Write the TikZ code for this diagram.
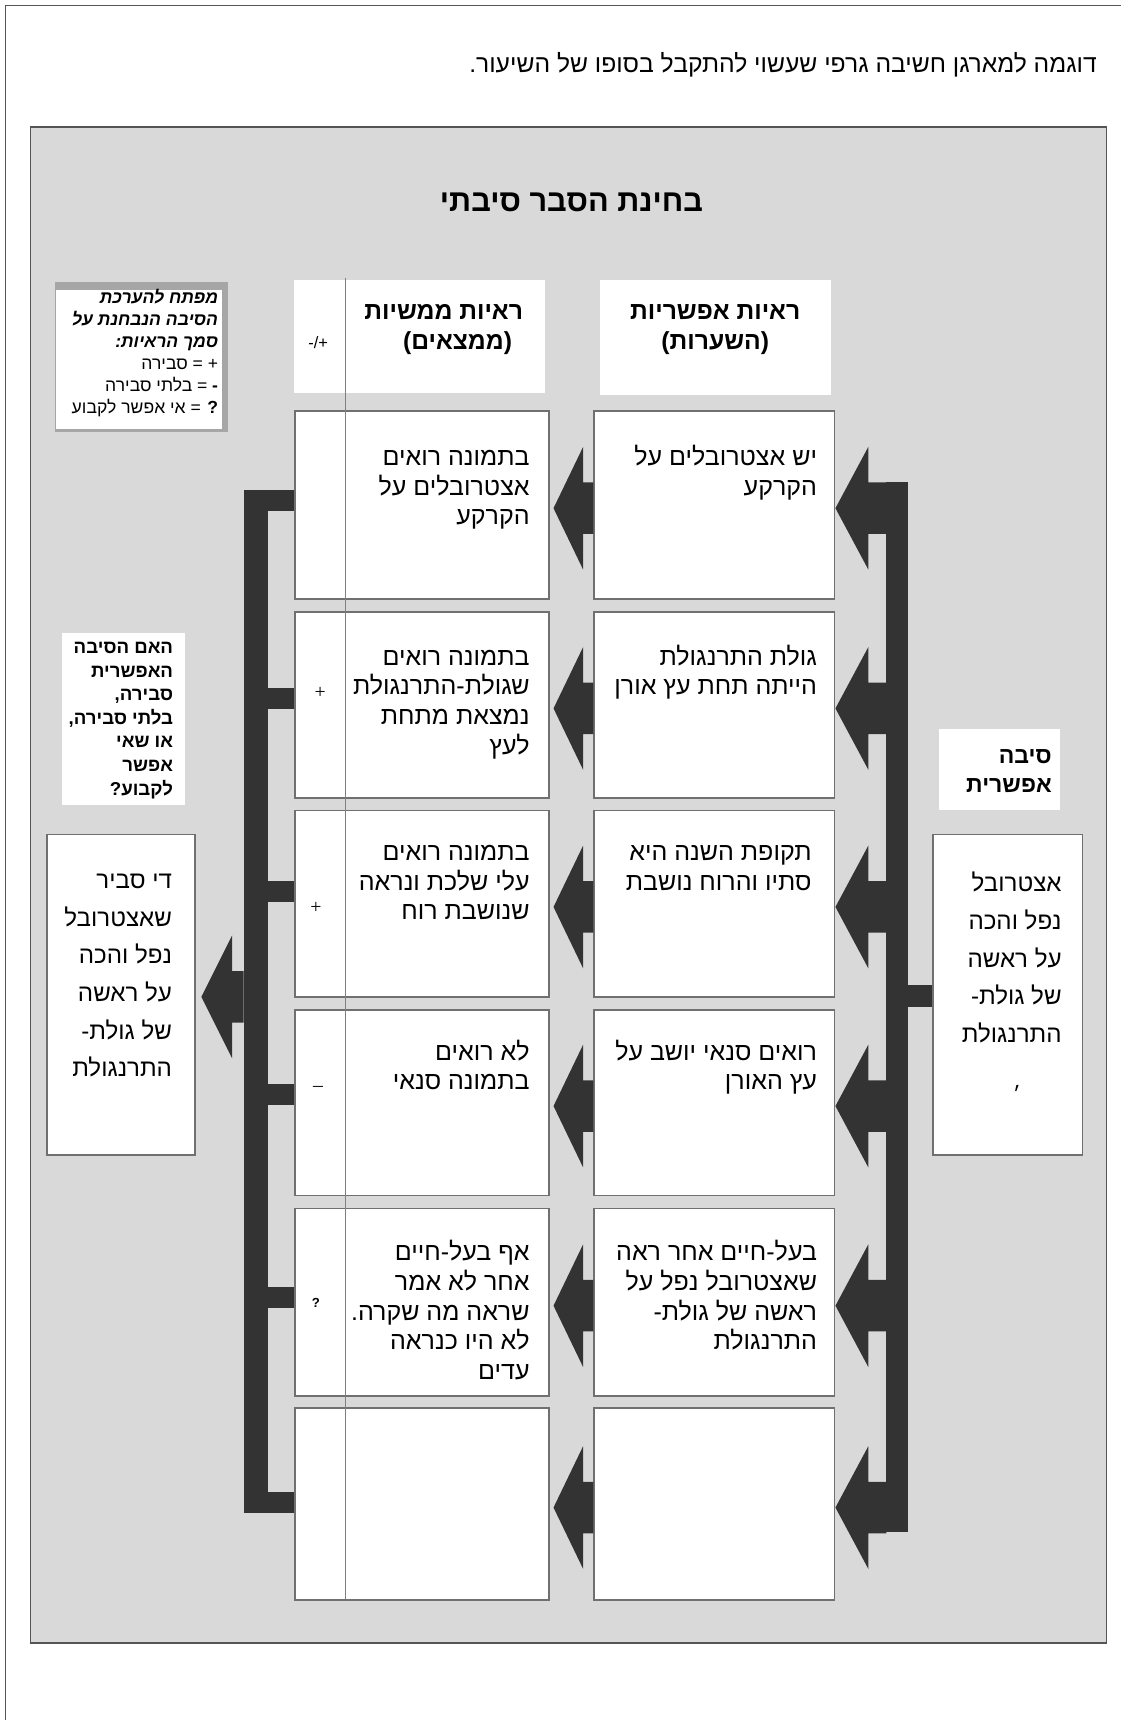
\documentclass[tikz,border=0pt]{standalone}
\usepackage{fontspec}
\setmainfont[Script=Hebrew]{Liberation Sans}
\newfontfamily\serifmark{Liberation Serif}
\newfontfamily\latinsans{Liberation Sans}
\usetikzlibrary{calc}
\TeXXeTstate=1
\newcommand{\heb}[1]{\strut\beginR#1\endR}
\definecolor{panelgray}{HTML}{D9D9D9}
\definecolor{boxline}{HTML}{707070}
\definecolor{arrowdark}{HTML}{333333}
\definecolor{framegray}{HTML}{555555}
\definecolor{keygray}{HTML}{A6A6A6}
\definecolor{divline}{HTML}{808080}
\tikzset{
  cell/.style={draw=boxline, line width=1.6pt, fill=white, anchor=north west, inner sep=0pt},
  plainbox/.style={fill=white, anchor=north west, inner sep=0pt},
  bodytext/.style={anchor=north east, align=right, inner sep=0pt, font=\fontsize{22.8}{27}\selectfont},
  tallbody/.style={anchor=north east, align=right, inner sep=0pt, font=\fontsize{22}{34.3}\selectfont},
  headtext/.style={anchor=north east, align=right, inner sep=0pt, font=\fontsize{22.5}{27}\selectfont\bfseries},
  markserif/.style={inner sep=0pt, font=\serifmark\fontsize{18}{20}\selectfont},
  darkfill/.style={fill=arrowdark}
}
\newcommand{\blockarrow}[3]{\fill[arrowdark] (#1) -- ++(#3,-56) -- ++(0,32.5) -- ($(#1 -| #2)+(0,-23.5)$) -- ($(#1 -| #2)+(0,23.5)$) -- ($(#1)+(#3,23.5)$) -- ++(0,32.5) -- cycle;}
\begin{document}
\begin{tikzpicture}[x=1pt,y=-1pt]
\lineskiplimit=-50pt
\useasboundingbox (0,0) rectangle (1022,1568);
\fill[white] (0,0) rectangle (1022,1568);
\draw[framegray, line width=1pt] (1022,5) -- (5,5) -- (5,1568);
\node[anchor=base east, inner sep=0pt, font=\fontsize{22.5}{26}\selectfont] (intro) at (1000,66) {\heb{דוגמה למארגן חשיבה גרפי שעשוי להתקבל בסופו של השיעור.}};
% panel
\node[draw=framegray, line width=1.5pt, fill=panelgray, anchor=north west, minimum width=981, minimum height=1382, inner sep=0pt] (panel) at (27,115) {};
\node[anchor=base, inner sep=0pt, font=\fontsize{28}{32}\selectfont\bfseries] (title) at (521,192.6) {\heb{בחינת הסבר סיבתי}};
% key
\node[fill=keygray, anchor=north west, minimum width=158, minimum height=137, inner sep=0pt] (keyframe) at (50,257) {};
\node[fill=white, anchor=north west, minimum width=151, minimum height=126.5, inner sep=0pt] (keybox) at (51,264.5) {};
\node[anchor=north east, align=right, inner sep=0pt, font=\fontsize{16}{20}\selectfont] (keytext) at (199,262.3) {\heb{\bfseries\itshape מפתח להערכת}\\\heb{\bfseries\itshape הסיבה הנבחנת על}\\\heb{\bfseries\itshape סמך הראיות:}\\\heb{+ = סבירה}\\\heb{\textbf{-} = בלתי סבירה}\\\heb{\textbf{?} = אי אפשר לקבוע}};
% column headers
\node[plainbox, minimum width=229, minimum height=103] (hdrEv) at (268,255) {};
\node[plainbox, minimum width=210, minimum height=105] (hdrHy) at (547,255) {};
\node[headtext] (hdrEvText) at (477,272.2) {\heb{ראיות ממשיות}\\\heb{(ממצאים)}\kern10pt};
\node[anchor=north, align=center, inner sep=0pt, font=\fontsize{22.5}{27}\selectfont\bfseries] (hdrHyText) at (652,272.2) {\heb{ראיות אפשריות}\\\heb{(השערות)}};
\node[inner sep=0pt, font=\latinsans\fontsize{15}{17}\selectfont] (pm) at (290,312) {-/+};
% rows
\node[cell, minimum width=232, minimum height=171] (ev1) at (268,374) {};
\node[cell, minimum width=219, minimum height=171] (hy1) at (541,374) {};
\node[cell, minimum width=232, minimum height=170] (ev2) at (268,557) {};
\node[cell, minimum width=219, minimum height=170] (hy2) at (541,557) {};
\node[cell, minimum width=232, minimum height=170] (ev3) at (268,738) {};
\node[cell, minimum width=219, minimum height=170] (hy3) at (541,738) {};
\node[cell, minimum width=232, minimum height=169] (ev4) at (268,920) {};
\node[cell, minimum width=219, minimum height=169] (hy4) at (541,920) {};
\node[cell, minimum width=232, minimum height=171] (ev5) at (268,1101) {};
\node[cell, minimum width=219, minimum height=171] (hy5) at (541,1101) {};
\node[cell, minimum width=232, minimum height=175] (ev6) at (268,1283) {};
\node[cell, minimum width=219, minimum height=175] (hy6) at (541,1283) {};
% divider
\coordinate (divtop) at (315,253);
\coordinate (divbot) at (315,1458);
\draw[divline, line width=1.5pt] (divtop) -- (divbot);
% row texts
\node[bodytext] (hy1t) at (745,405.3) {\heb{יש אצטרובלים על}\\\heb{הקרקע}};
\node[bodytext] (ev1t) at (483,405.3) {\heb{בתמונה רואים}\\\heb{אצטרובלים על}\\\heb{הקרקע}};
\node[bodytext] (hy2t) at (745,587.3) {\heb{גולת התרנגולת}\\\heb{הייתה תחת עץ אורן}};
\node[bodytext] (ev2t) at (483,587.3) {\heb{בתמונה רואים}\\\heb{שגולת-התרנגולת}\\\heb{נמצאת מתחת}\\\heb{לעץ}};
\node[bodytext] (hy3t) at (740,765.3) {\heb{תקופת השנה היא}\\\heb{סתיו והרוח נושבת}};
\node[bodytext] (ev3t) at (483,765.3) {\heb{בתמונה רואים}\\\heb{עלי שלכת ונראה}\\\heb{שנושבת רוח}};
\node[bodytext] (hy4t) at (745,947.3) {\heb{רואים סנאי יושב על}\\\heb{עץ האורן}};
\node[bodytext] (ev4t) at (483,947.3) {\heb{לא רואים}\\\heb{בתמונה סנאי}};
\node[bodytext] (hy5t) at (745,1130.3) {\heb{בעל-חיים אחר ראה}\\\heb{שאצטרובל נפל על}\\\heb{ראשה של גולת-}\\\heb{התרנגולת}};
\node[bodytext] (ev5t) at (483,1130.3) {\heb{אף בעל-חיים}\\\heb{אחר לא אמר}\\\heb{שראה מה שקרה.}\\\heb{לא היו כנראה}\\\heb{עדים}};
% marks
\node[markserif] (mk2) at (292,632) {+};
\node[markserif] (mk3) at (288,828) {+};
\node[markserif] (mk4) at (290,993) {–};
\node[inner sep=0pt, font=\fontsize{12}{14}\selectfont\bfseries] (mk5) at (288,1188) {?};
% side boxes
\node[plainbox, minimum width=112, minimum height=157] (qbox) at (56,577) {};
\node[anchor=north east, align=right, inner sep=0pt, font=\fontsize{17}{21.5}\selectfont\bfseries] (qtext) at (158,580.6) {\heb{האם הסיבה}\\\heb{האפשרית}\\\heb{סבירה,}\\\heb{בלתי סבירה,}\\\heb{או שאי}\\\heb{אפשר}\\\heb{לקבוע?}};
\node[plainbox, minimum width=110, minimum height=74] (causelbl) at (856,664) {};
\node[anchor=north east, align=right, inner sep=0pt, font=\fontsize{21}{27}\selectfont\bfseries] (causelblt) at (959,676.8) {\heb{סיבה}\\\heb{אפשרית}};
\node[cell, minimum width=135, minimum height=292] (result) at (42,760) {};
\node[tallbody] (resultt) at (157,785.9) {\heb{די סביר}\\\heb{שאצטרובל}\\\heb{נפל והכה}\\\heb{על ראשה}\\\heb{של גולת-}\\\heb{התרנגולת}};
\node[cell, minimum width=136, minimum height=292] (cause) at (850,760) {};
\node[tallbody] (causet) at (968,788.9) {\heb{אצטרובל}\\\heb{נפל והכה}\\\heb{על ראשה}\\\heb{של גולת-}\\\heb{התרנגולת}};
\node[inner sep=0pt, font=\fontsize{18}{20}\selectfont] (causemark) at (927,997) {׳};
% bars and stubs
\coordinate (rbar) at (808,0);
\coordinate (lbar) at (222,0);
\fill[arrowdark] (808,439) rectangle (828,1397);
\fill[arrowdark] (828,898) rectangle (cause.west |- 0,918);
\fill[arrowdark] (222,446.5) rectangle (244,1379.5);
\foreach \c/\n in {456/1,637/2,813/3,998/4,1183/5,1370/6}{
  \fill[arrowdark] (222,\c-9.5) rectangle (ev\n.west |- 0,\c+9.5);
}
% arrows
\foreach \n in {1,...,6}{
  \coordinate (m\n) at ($(ev\n.east)+(3,3)$);
  \coordinate (r\n) at ($(hy\n.east)+(0,3)$);
  \blockarrow{m\n}{hy\n.west}{27}
  \blockarrow{r\n}{rbar}{30}
}
\coordinate (lt) at ($(result.east)+(5,2)$);
\blockarrow{lt}{lbar}{28}
\end{tikzpicture}
\end{document}
